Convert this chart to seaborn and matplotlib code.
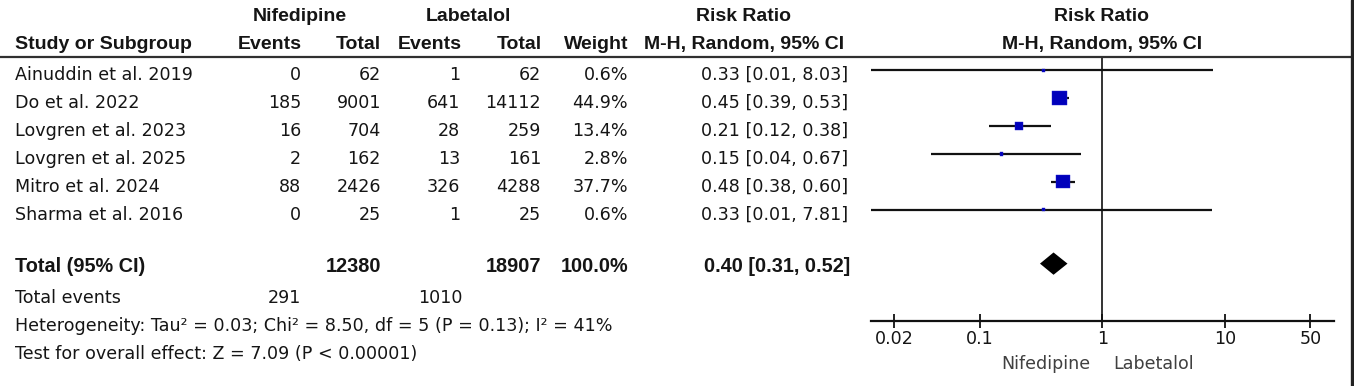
import numpy as np
import pandas as pd
import seaborn as sns
import matplotlib.pyplot as plt
from matplotlib.lines import Line2D

# study level data
studies = ["Ainuddin et al. 2019", "Do et al. 2022", "Lovgren et al. 2023",
           "Lovgren et al. 2025", "Mitro et al. 2024", "Sharma et al. 2016"]
nif_events = [0, 185, 16, 2, 88, 0]
nif_total = [62, 9001, 704, 162, 2426, 25]
lab_events = [1, 641, 28, 13, 326, 1]
lab_total = [62, 14112, 259, 161, 4288, 25]
weights = [0.6, 44.9, 13.4, 2.8, 37.7, 0.6]
rr = [0.33, 0.45, 0.21, 0.15, 0.48, 0.33]
ci_lo = [0.01, 0.39, 0.12, 0.04, 0.38, 0.01]
ci_hi = [8.03, 0.53, 0.38, 0.67, 0.60, 7.81]

# pooled
total_nif = 12380
total_lab = 18907
events_nif = 291
events_lab = 1010
total_rr = 0.40
total_lo = 0.31
total_hi = 0.52
het_text = "Heterogeneity: Tau\u00b2 = 0.03; Chi\u00b2 = 8.50, df = 5 (P = 0.13); I\u00b2 = 41%"
test_text = "Test for overall effect: Z = 7.09 (P < 0.00001)"

ticks = [0.02, 0.1, 1, 10, 50]
tick_labels = ["0.02", "0.1", "1", "10", "50"]

sns.set_style("white")
plt.rcParams["font.family"] = ["Liberation Sans", "DejaVu Sans"]

W, H = 1354, 386
fig = plt.figure(figsize=(W / 100, H / 100), dpi=100)
txt_col = "#151515"
body_font = "DejaVu Sans"
body_size = 12.6


def put(x, y, s, ha="right", bold=False, size=None, color=txt_col):
    if bold:
        fig.text(x / W, 1 - y / H, s, ha=ha, va="baseline", fontsize=size or 14,
                 fontweight="bold", color=color, family="Liberation Sans")
    else:
        fig.text(x / W, 1 - y / H, s, ha=ha, va="baseline", fontsize=size or body_size,
                 color=color, family=body_font)


# header
hs = 14
put(300, 21, "Nifedipine", ha="center", bold=True, size=hs)
put(468, 21, "Labetalol", ha="center", bold=True, size=hs)
put(743, 21, "Risk Ratio", ha="center", bold=True, size=hs)
put(1102, 21, "Risk Ratio", ha="center", bold=True, size=hs)
put(15, 49, "Study or Subgroup", ha="left", bold=True, size=hs)
put(302, 49, "Events", bold=True, size=hs)
put(381, 49, "Total", bold=True, size=hs)
put(462, 49, "Events", bold=True, size=hs)
put(542, 49, "Total", bold=True, size=hs)
put(628, 49, "Weight", bold=True, size=hs)
put(744, 49, "M-H, Random, 95% CI", ha="center", bold=True, size=hs)
put(1102, 49, "M-H, Random, 95% CI", ha="center", bold=True, size=hs)

# study rows
row_gap = 27.9
for i, name in enumerate(studies):
    yb = 80 + row_gap * i
    put(15, yb, name, ha="left")
    put(301, yb, str(nif_events[i]))
    put(381, yb, str(nif_total[i]))
    put(460, yb, str(lab_events[i]))
    put(541, yb, str(lab_total[i]))
    put(628, yb, f"{weights[i]:.1f}%")
    put(848, yb, f"{rr[i]:.2f} [{ci_lo[i]:.2f}, {ci_hi[i]:.2f}]")

# total rows
put(15, 272, "Total (95% CI)", ha="left", bold=True, size=14.3)
put(381, 272, str(total_nif), bold=True, size=14.3)
put(541, 272, str(total_lab), bold=True, size=14.3)
put(628, 272, "100.0%", bold=True, size=14.3)
put(850, 272, f"{total_rr:.2f} [{total_lo:.2f}, {total_hi:.2f}]", bold=True, size=14.3)
put(15, 303, "Total events", ha="left")
put(301, 303, str(events_nif))
put(463, 303, str(events_lab))
put(15, 331, het_text, ha="left")
put(15, 359, test_text, ha="left")

# frame lines
fig.add_artist(Line2D([0, 1352 / W], [1 - 56.5 / H] * 2, color="#303030", lw=1.6))
fig.add_artist(Line2D([1352 / W] * 2, [0, 1], color="#222222", lw=2.4))

# forest plot axes
x0, x1 = 871, 1334
y_top, y_bot = 57, 321
ax = fig.add_axes([x0 / W, 1 - y_bot / H, (x1 - x0) / W, (y_bot - y_top) / H])
ax.set_xscale("log")
ax.set_xlim(0.01294, 77.9)
rows = np.arange(len(studies))
total_row = 6.94
ax.set_ylim((y_bot - 70) / row_gap, (y_top - 70) / row_gap)

ax.axvline(1, color="#111111", lw=1.2, zorder=1)
ax.hlines(rows, ci_lo, ci_hi, color="#111111", lw=1.6, zorder=2)

df = pd.DataFrame({"rr": rr, "row": rows, "w": weights})
side_px = np.maximum(3.0, 2.2 * np.sqrt(df["w"]))
sns.scatterplot(data=df, x="rr", y="row", marker="s", s=(side_px * 0.72) ** 2,
                color="#0000bb", edgecolor="#2020d0", linewidth=0.3, zorder=3, ax=ax,
                legend=False)

dh = 0.4
ax.fill([total_lo, total_rr, total_hi, total_rr],
        [total_row, total_row - dh, total_row, total_row + dh],
        color="black", lw=0, zorder=3)

for s in ["top", "right", "left"]:
    ax.spines[s].set_visible(False)
ax.spines["bottom"].set_color("#111111")
ax.spines["bottom"].set_linewidth(1.6)
ax.set_yticks([])
ax.set_xticks(ticks)
ax.set_xticklabels(tick_labels, family=body_font)
ax.minorticks_off()
ax.tick_params(axis="x", bottom=True, direction="inout", length=9.5, width=1.3,
               color="#111111", labelsize=body_size, labelcolor=txt_col, pad=1.5)
ax.set_xlabel("")
ax.set_ylabel("")
ax.patch.set_alpha(0)

put(1090, 369, "Nifedipine", ha="right", color="#404040")
put(1113, 369, "Labetalol", ha="left", color="#404040")

fig.savefig("out.png", dpi=100)
